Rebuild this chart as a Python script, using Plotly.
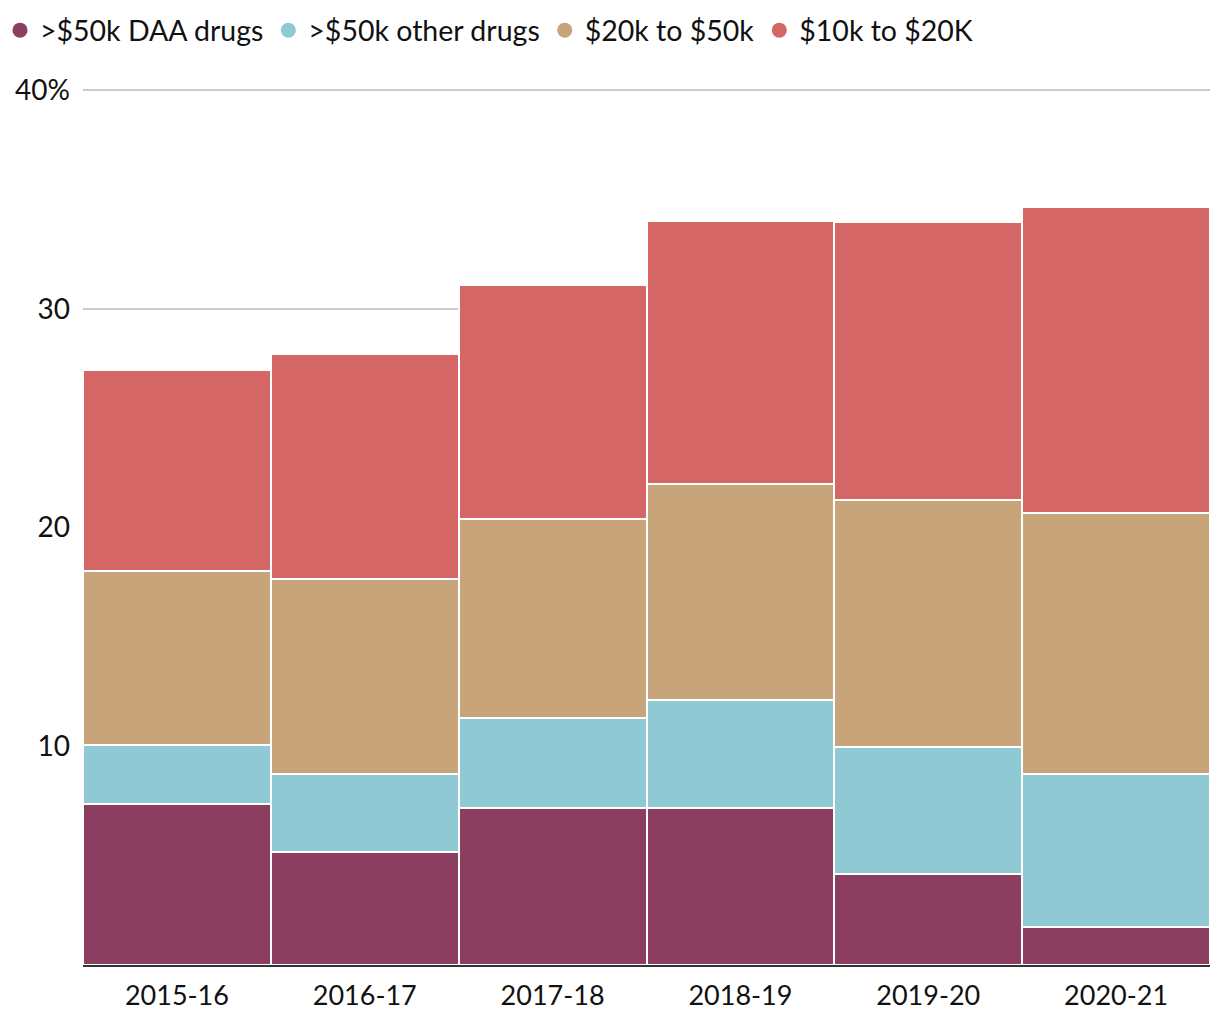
import plotly.graph_objects as go

years = ["2015-16", "2016-17", "2017-18", "2018-19", "2019-20", "2020-21"]
series_names = [">$50k DAA drugs", ">$50k other drugs", "$20k to $50k", "$10k to $20K"]
daa = [7.35, 5.15, 7.2, 7.2, 4.15, 1.75]
other = [2.7, 3.6, 4.1, 4.9, 5.8, 7.0]
mid = [7.95, 8.9, 9.1, 9.9, 11.3, 11.9]
low = [9.2, 10.3, 10.7, 12.0, 12.7, 14.0]
colors = ["#8B3E5F", "#8FC9D4", "#C7A47A", "#D46766"]
tick_vals = [10, 20, 30, 40]
tick_text = ["10", "20", "30", "40%"]

fig = go.Figure()
for name, vals, col in zip(series_names, [daa, other, mid, low], colors):
    fig.add_trace(go.Bar(x=years, y=vals, name=name, marker=dict(color=col, line=dict(color="white", width=2)),
                         showlegend=False))
for name, col in zip(series_names, colors):
    fig.add_trace(go.Scatter(x=[None], y=[None], mode="markers", name=name,
                             marker=dict(color=col, size=15, symbol="circle")))

fig.update_layout(
    width=1220, height=1020,
    barmode="stack", bargap=0,
    plot_bgcolor="white", paper_bgcolor="white",
    font=dict(family="Lato, sans-serif", size=27, color="#111"),
    margin=dict(l=83, r=10, t=89, b=55),
    legend=dict(orientation="h", xref="container", yref="container", x=0.0, y=0.995,
                xanchor="left", yanchor="top", font=dict(size=28.5), itemwidth=30,
                traceorder="normal", tracegroupgap=0, bgcolor="rgba(0,0,0,0)"),
    xaxis=dict(showline=True, linecolor="#333", linewidth=2, ticks="", showgrid=False,
               tickfont=dict(size=27), ticklabelstandoff=6, automargin=False),
    yaxis=dict(range=[0, 40.05], tickvals=tick_vals, ticktext=tick_text, showgrid=True,
               gridcolor="#cccccc", gridwidth=1.5, zeroline=False, ticks="", ticklabelstandoff=12,
               tickfont=dict(size=28), automargin=False),
)
fig.write_html("out.html", config={"displayModeBar": False},
               post_script="document.body.style.margin='0px';")
